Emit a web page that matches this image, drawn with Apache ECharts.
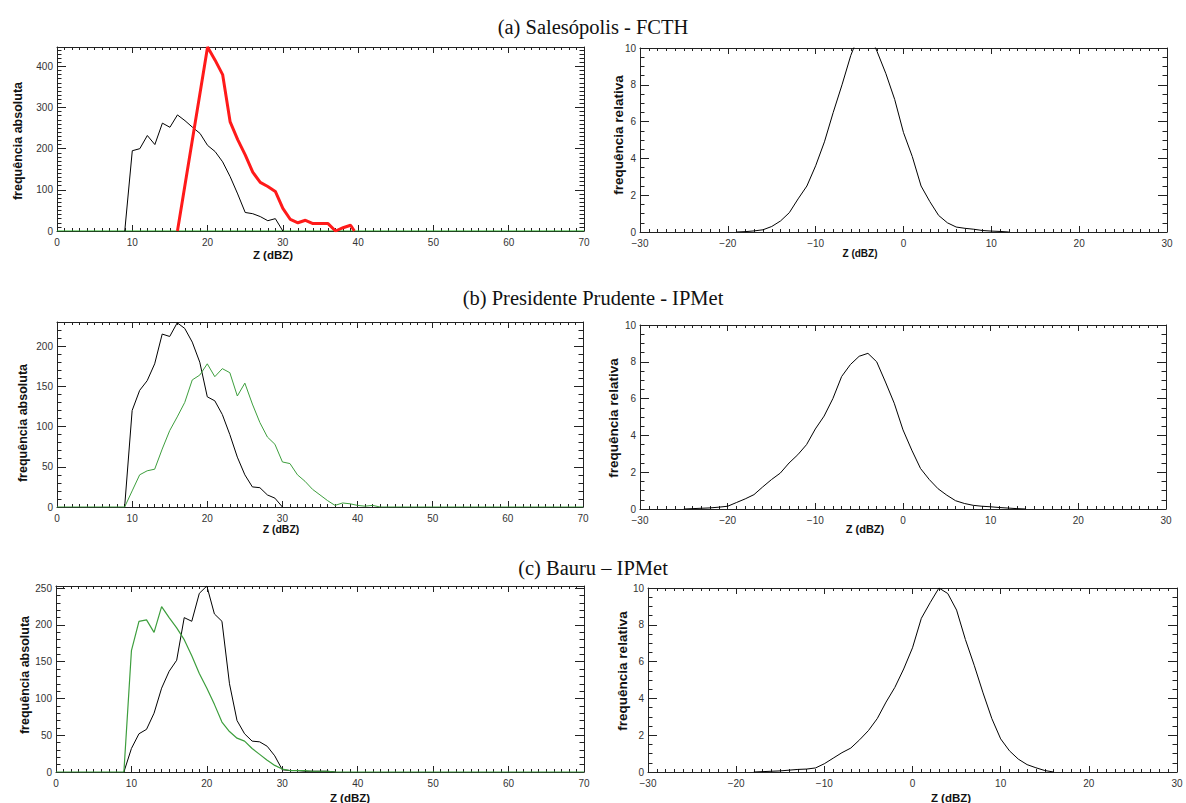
<!DOCTYPE html>
<html>
<head>
<meta charset="utf-8">
<script src="https://cdn.jsdelivr.net/npm/echarts@6/dist/echarts.min.js"></script>
<style>html,body{margin:0;padding:0;background:#fff;}#c{width:1186px;height:803px;}</style>
</head>
<body>
<div id="c"></div>
<script>
// ---------- DATA ----------
const titles = ['(a) Salesópolis - FCTH', '(b) Presidente Prudente - IPMet', '(c) Bauru – IPMet'];
const xName = 'Z (dBZ)';
const yNameAbs = 'frequência absoluta';
const yNameRel = 'frequência relativa';

// absolute-frequency tick labels
const absTicksA = [0, 100, 200, 300, 400];
const absTicksB = [0, 50, 100, 150, 200];
const absTicksC = [0, 50, 100, 150, 200, 250];
const relTicks = [0, 2, 4, 6, 8, 10];
const absMax = [447, 230, 253];

// (a) Salesópolis - FCTH, absolute
const zA_black = [9,10,11,12,13,14,15,16,17,18,19,20,21,22,23,24,25,26,27,28,29,30];
const fA_black = [0,195,200,232,210,262,252,282,268,252,237,208,193,168,132,90,45,42,35,25,30,0];
const zA_red = [16,20,21,22,23,24,25,26,27,28,29,30,31,32,33,34,35,36,37,38,39,39.5];
const fA_red = [0,447,415,380,265,222,185,143,118,108,96,55,28,20,26,18,18,18,0,8,14,0];
const zA_green = [0,70];
const fA_green = [0,0];

// (b) Presidente Prudente - IPMet, absolute
const zB_black = [9,10,11,12,13,14,15,16,17,18,19,20,21,22,23,24,25,26,27,28,29,30];
const fB_black = [0,120,145,157,178,215,212,229,222,205,180,137,132,115,90,62,40,25,24,15,11,0];
const zB_green = [0,9,10,11,12,13,14,15,16,17,18,19,20,21,22,23,24,25,26,27,28,29,30,31,32,33,34,35,36,37,38,39,40,41,42,43,70];
const fB_green = [0,0,20,40,45,47,72,95,112,130,158,164,178,162,172,167,138,154,128,105,87,78,56,54,40,32,22,15,8,2,5,4,2,1,2,0,0];

// (c) Bauru - IPMet, absolute
const zC_black = [9,10,11,12,13,14,15,16,17,18,19,20,21,22,23,24,25,26,27,28,29,30,31,32,33,34,35,36,37];
const fC_black = [0,32,52,58,80,114,137,152,210,205,243,253,215,205,120,70,52,42,41,35,22,3,2,2,1,1,1,1,0];
const zC_green = [0,9,10,11,12,13,14,15,16,17,18,19,20,21,22,23,24,25,26,27,28,29,30,31,32,33,34,35,36,37,70];
const fC_green = [0,0,165,205,207,190,225,210,196,180,158,134,114,92,68,55,46,42,32,24,16,9,4,2,2,2,1,1,1,0,0];

// relative frequency curves
const zRelA = [-19,-18,-17,-16,-15,-14,-13,-12,-11,-10,-9,-8,-7,-6,-5,-4,-3,-2,-1,0,1,2,3,4,5,6,7,8,9,10,11,12];
const fRelA = [0,0.02,0.06,0.12,0.3,0.6,1.05,1.8,2.5,3.6,4.9,6.5,8.0,9.6,10.8,10.9,9.8,8.6,7.2,5.4,4.1,2.5,1.65,0.9,0.5,0.27,0.2,0.15,0.08,0.05,0.03,0];
const zRelB = [-25,-24,-23,-22,-21,-20,-19,-18,-17,-16,-15,-14,-13,-12,-11,-10,-9,-8,-7,-6,-5,-4,-3,-2,-1,0,1,2,3,4,5,6,7,8,9,10,11,12,13,14];
const fRelB = [0,0.02,0.04,0.06,0.1,0.15,0.35,0.55,0.78,1.2,1.6,1.95,2.5,2.95,3.5,4.35,5.05,6.0,7.2,7.85,8.3,8.46,8.0,6.9,5.75,4.3,3.2,2.2,1.6,1.1,0.75,0.45,0.3,0.2,0.15,0.12,0.08,0.05,0.02,0];
const zRelC = [-18,-17,-16,-15,-14,-13,-12,-11,-10,-9,-8,-7,-6,-5,-4,-3,-2,-1,0,1,2,3,4,5,6,7,8,9,10,11,12,13,14,15,16];
const fRelC = [0,0.02,0.04,0.06,0.1,0.14,0.16,0.22,0.45,0.75,1.05,1.3,1.75,2.25,2.9,3.8,4.6,5.6,6.75,8.35,9.2,10.0,9.7,8.8,7.2,5.8,4.3,2.9,1.8,1.15,0.7,0.4,0.23,0.08,0];

// ---------- LAYOUT / STYLE ----------
const grids = [
  {left: 57, top: 47, width: 527, height: 184},
  {left: 640, top: 48, width: 527, height: 184},
  {left: 57, top: 322, width: 526, height: 185},
  {left: 640, top: 325, width: 526, height: 184},
  {left: 56, top: 586, width: 528, height: 186},
  {left: 648, top: 588, width: 529, height: 184}
];
const AX = '#222';
const FONT = 'Liberation Sans, Arial, sans-serif';
const GREEN = '#3d9e3d';

function pairs(z, f) { return z.map((v, i) => [v, f[i]]); }
function range(a, b, s) { const r = []; for (let v = a; v <= b + 1e-9; v += s) r.push(+v.toFixed(6)); return r; }
function minus(v) { return String(v).replace('-', '\u2212'); }

const xAxes = [], yAxes = [];
function addX(g, min, max) {
  const base = {
    type: 'value', gridIndex: g, min: min, max: max, interval: 10,
    axisLine: {show: true, onZero: false, lineStyle: {color: AX, width: 1}},
    axisTick: {show: true, inside: true, length: 6, lineStyle: {color: AX}},
    minorTick: {show: true, splitNumber: 10, length: 3, lineStyle: {color: AX}},
    splitLine: {show: false}, minorSplitLine: {show: false}
  };
  xAxes.push(Object.assign({}, base, {position: 'bottom',
    axisLabel: {show: true, fontSize: 10, color: '#333', fontFamily: FONT, margin: 6, formatter: minus}}));
  xAxes.push(Object.assign({}, base, {position: 'top', axisLabel: {show: false}}));
}
function addY(g, max, majors, minorStep) {
  const minors = range(0, max, minorStep);
  const mk = (pos, label, major) => ({
    type: 'value', gridIndex: g, position: pos, min: 0, max: max,
    axisLine: {show: major, onZero: false, lineStyle: {color: AX, width: 1}},
    axisTick: {show: true, inside: true, length: major ? 9 : 4.5, customValues: major ? majors : minors, lineStyle: {color: AX}},
    axisLabel: label ? {show: true, customValues: majors, fontSize: 10, color: '#333', fontFamily: FONT, margin: 4} : {show: false},
    splitLine: {show: false}
  });
  yAxes.push(mk('left', true, true));
  yAxes.push(mk('left', false, false));
  yAxes.push(mk('right', false, true));
  yAxes.push(mk('right', false, false));
}

addX(0, 0, 70);  addY(0, absMax[0], absTicksA, 10);
addX(1, -30, 30); addY(1, 10, relTicks, 0.5);
addX(2, 0, 70);  addY(2, absMax[1], absTicksB, 10);
addX(3, -30, 30); addY(3, 10, relTicks, 0.5);
addX(4, 0, 70);  addY(4, absMax[2], absTicksC, 10);
addX(5, -30, 30); addY(5, 10, relTicks, 0.5);

function line(g, z, f, color, width) {
  return {
    type: 'line', xAxisIndex: 2 * g, yAxisIndex: 4 * g, data: pairs(z, f),
    showSymbol: false, symbol: 'none', clip: true, animation: false, silent: true,
    lineStyle: {color: color, width: width}
  };
}
const series = [
  line(0, zA_green, fA_green, '#22b022', 1.2),
  line(0, zA_black, fA_black, '#000', 1),
  line(0, zA_red, fA_red, '#ff1a1a', 3),
  line(1, zRelA, fRelA, '#000', 1),
  line(2, zB_black, fB_black, '#000', 1),
  line(2, zB_green, fB_green, GREEN, 1),
  line(3, zRelB, fRelB, '#000', 1),
  line(4, zC_black, fC_black, '#000', 1),
  line(4, zC_green, fC_green, GREEN, 1.2),
  line(5, zRelC, fRelC, '#000', 1)
];

function txt(x, y, s, size, weight, family, rot) {
  return {type: 'text', x: x, y: y, rotation: rot || 0, silent: true,
    style: {text: s, fontSize: size, fontWeight: weight, fontFamily: family, fill: '#111', align: 'center', verticalAlign: 'middle'}};
}
const SERIF = 'Liberation Serif, Times New Roman, serif';
const R = Math.PI / 2;
const graphic = [
  txt(593, 27, titles[0], 20.5, 'normal', SERIF),
  txt(593, 298, titles[1], 20.5, 'normal', SERIF),
  txt(593, 568, titles[2], 20.5, 'normal', SERIF),
  txt(273, 255, xName, 11.5, 'bold', FONT),
  txt(860, 253, xName, 10, 'bold', FONT),
  txt(281, 529, xName, 10.5, 'bold', FONT),
  txt(865, 529, xName, 11, 'bold', FONT),
  txt(350, 798, xName, 11.5, 'bold', FONT),
  txt(951, 798, xName, 11.5, 'bold', FONT),
  txt(18, 141, yNameAbs, 12.5, 'bold', FONT, R),
  txt(618, 135, yNameRel, 13.5, 'bold', FONT, R),
  txt(23, 423, yNameAbs, 12.5, 'bold', FONT, R),
  txt(613, 418, yNameRel, 13.5, 'bold', FONT, R),
  txt(25, 675, yNameAbs, 12.5, 'bold', FONT, R),
  txt(622, 671, yNameRel, 13.5, 'bold', FONT, R)
];

const chart = echarts.init(document.getElementById('c'), null, {renderer: 'svg'});
chart.setOption({
  backgroundColor: '#fff',
  animation: false,
  grid: grids.map(g => Object.assign({containLabel: false}, g)),
  xAxis: xAxes,
  yAxis: yAxes,
  series: series,
  graphic: graphic
});
</script>
</body>
</html>
